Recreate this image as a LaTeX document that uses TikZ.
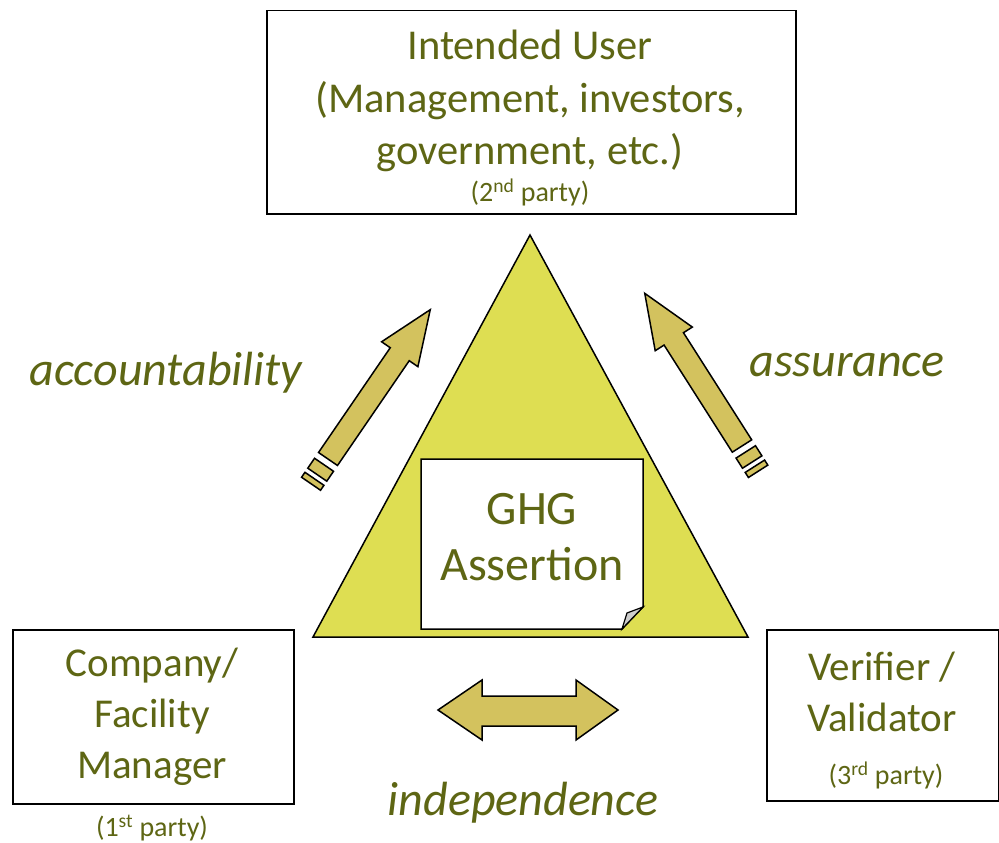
\documentclass[tikz,border=0pt]{standalone}
\usepackage{fontspec}
\setmainfont{Carlito}
\definecolor{txt}{RGB}{94,102,20}
\definecolor{tri}{RGB}{222,222,82}
\definecolor{arr}{RGB}{211,194,94}
\definecolor{foldgray}{RGB}{205,205,205}
\begin{document}
\begin{tikzpicture}[x=1pt,y=-1pt, line join=miter,
  box/.style={draw=black, line width=1.5pt, fill=white, inner sep=0},
  big/.style={text=txt, font=\fontsize{41}{51}\selectfont, align=center, inner sep=0},
  topbig/.style={text=txt, font=\fontsize{42.5}{52.5}\selectfont, align=center, inner sep=0},
  ghgtext/.style={text=txt, font=\fontsize{48}{56}\selectfont, align=center, inner sep=0},
  small/.style={text=txt, font=\fontsize{28}{32}\selectfont, inner sep=0},
  lbl/.style={text=txt, font=\fontsize{48}{56}\selectfont\itshape, inner sep=0},
  fatarrow/.style={draw=black, line width=1.5pt, fill=arr}]
\useasboundingbox (0,0) rectangle (999,843);
% triangle
\draw[line width=1.5pt, fill=tri] (530,235) -- (748,637) -- (313,637) -- cycle;
% note
\draw[line width=1.5pt, fill=white] (421,459) -- (643,459) -- (643,607) -- (622,629) -- (421,629) -- cycle;
\draw[line width=1.2pt, fill=foldgray] (643,607) -- (627,613) -- (622,629) -- cycle;
\node[ghgtext] (ghg) at (532,537) {GHG\\Assertion};
% boxes
\node[box, minimum width=529pt, minimum height=203pt, anchor=north west] (userbox) at (266,10) {};
\node[box, minimum width=281pt, minimum height=174pt, anchor=north west] (compbox) at (12,629) {};
\node[box, minimum width=232pt, minimum height=171pt, anchor=north west] (verbox) at (766,629) {};
\node[topbig] (user) at (530,101) {Intended User\\(Management, investors,\\government, etc.)};
\node[small] (second) at (530,192) {(2\textsuperscript{nd} party)};
\node[big] (comp) at (152,717) {Company/\\Facility\\Manager};
\node[small] (first) at (152,828) {(1\textsuperscript{st} party)};
\node[big] (ver) at (882,692) {Verifier /\\Validator};
\node[small] (third) at (886,775) {(3\textsuperscript{rd} party)};
% labels
\node[lbl] (acc) at (166,373) {accountability};
\node[lbl] (ass) at (847,365) {assurance};
\node[lbl] (ind) at (523,803) {independence};
% striped arrows
\begin{scope}[shift={(328,459)}, rotate=55.6]
  \draw[fatarrow] (0pt,-11.5pt) -- (127pt,-11.5pt) -- (127pt,-22pt) -- (181pt,0pt) -- (127pt,22pt) -- (127pt,11.5pt) -- (0pt,11.5pt) -- cycle;
  \draw[fatarrow] (-19pt,-11.5pt) rectangle (-7pt,11.5pt);
  \draw[fatarrow] (-30pt,-11.5pt) rectangle (-24pt,11.5pt);
\end{scope}
\begin{scope}[shift={(742,446)}, rotate=122.5]
  \draw[fatarrow] (0pt,-11.5pt) -- (127pt,-11.5pt) -- (127pt,-22pt) -- (181pt,0pt) -- (127pt,22pt) -- (127pt,11.5pt) -- (0pt,11.5pt) -- cycle;
  \draw[fatarrow] (-19pt,-11.5pt) rectangle (-7pt,11.5pt);
  \draw[fatarrow] (-30pt,-11.5pt) rectangle (-24pt,11.5pt);
\end{scope}
% double arrow
\draw[fatarrow] (438,710) -- (482,680) -- (482,696) -- (576,696) -- (576,680) -- (618,710) -- (576,740) -- (576,726) -- (482,726) -- (482,740) -- cycle;
\end{tikzpicture}
\end{document}
